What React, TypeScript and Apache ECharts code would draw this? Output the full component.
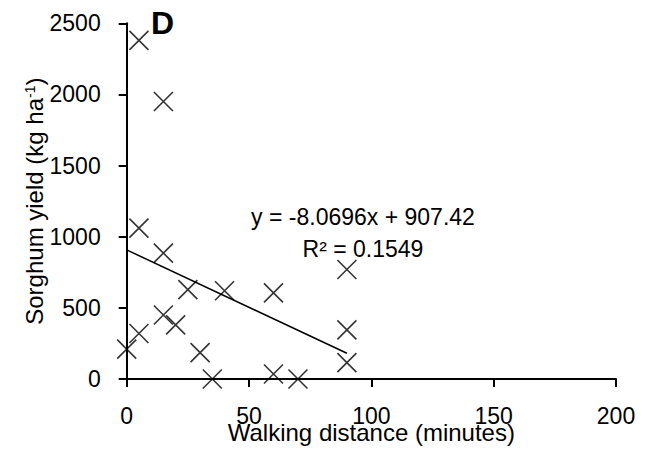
import React, { useEffect, useRef } from "react";
import * as echarts from "echarts";

// Walking distance to field (minutes) and sorghum yield (kg/ha) per household
const distanceMin = [5, 15, 5, 15, 25, 15, 20, 5, 0, 30, 35, 40, 60, 60, 70, 90, 90, 90];
const yieldKgHa = [2380, 1950, 1060, 885, 628, 450, 380, 320, 210, 185, 0, 620, 605, 35, 0, 770, 345, 115];

// Linear trend fitted to the points above
const trendSlope = -8.0696;
const trendIntercept = 907.42;
const trendR2 = 0.1549;
const trendRange = [0, 90];

// Axis extents
const xAxisRange = [0, 200];
const xAxisStep = 50;
const yAxisRange = [0, 2500];
const yAxisStep = 500;

const panelLetter = "D";
const FONT = "Liberation Sans";

export default function App() {
  const ref = useRef<HTMLDivElement>(null);

  useEffect(() => {
    if (!ref.current) return;
    const chart = echarts.init(ref.current, null, { renderer: "svg" });

    const points = distanceMin.map((d, i) => [d, yieldKgHa[i]]);
    const trendPoints = trendRange.map((x) => [x, trendSlope * x + trendIntercept]);
    const eqText = `y = ${trendSlope}x ${trendIntercept < 0 ? "-" : "+"} ${Math.abs(trendIntercept)}`;
    const r2Text = `R\u00B2 = ${trendR2}`;

    const axisLine = { show: true, lineStyle: { color: "#000", width: 2 } };
    const axisTick = { show: true, inside: false, length: 8, lineStyle: { color: "#000", width: 2 } };
    const plain = (v: number) => String(v);

    chart.setOption({
      animation: false,
      backgroundColor: "#fff",
      grid: { left: 126.7, right: 32, top: 23.3, bottom: 67.3, containLabel: false },
      xAxis: {
        type: "value",
        min: xAxisRange[0],
        max: xAxisRange[1],
        interval: xAxisStep,
        splitLine: { show: false },
        axisLine,
        axisTick,
        axisLabel: { color: "#000", fontFamily: FONT, fontSize: 23, margin: 25, formatter: plain },
        name: "Walking distance (minutes)",
        nameLocation: "middle",
        nameGap: 41,
        nameMoveOverlap: false,
        nameTextStyle: { color: "#000", fontFamily: FONT, fontSize: 24, verticalAlign: "top" },
      },
      yAxis: {
        type: "value",
        min: yAxisRange[0],
        max: yAxisRange[1],
        interval: yAxisStep,
        splitLine: { show: false },
        axisLine,
        axisTick,
        axisLabel: { color: "#000", fontFamily: FONT, fontSize: 23, margin: 26, formatter: plain },
        name: "{a|Sorghum yield (kg ha}{s|-1}{a|)}",
        nameLocation: "middle",
        nameRotate: 90,
        nameGap: 80,
        nameMoveOverlap: false,
        nameTextStyle: {
          color: "#000",
          fontFamily: FONT,
          fontSize: 24,
          rich: {
            a: { fontFamily: FONT, fontSize: 24, color: "#000" },
            s: { fontFamily: FONT, fontSize: 14, color: "#000", verticalAlign: "top" },
          },
        },
      },
      series: [
        {
          type: "line",
          data: trendPoints,
          symbol: "none",
          lineStyle: { color: "#000", width: 1.5 },
          silent: true,
          z: 2,
        },
        {
          type: "scatter",
          data: points,
          symbol: "path://M0,0L10,10M10,0L0,10",
          symbolSize: 19,
          itemStyle: { color: "none", borderColor: "#000", borderWidth: 1.6 },
          z: 3,
        },
      ],
      graphic: [
        {
          type: "text",
          x: 151,
          y: 7,
          style: {
            text: panelLetter,
            fontFamily: FONT,
            fontSize: 32,
            fontWeight: "bold",
            fill: "#000",
            align: "left",
            verticalAlign: "top",
          },
        },
        {
          type: "text",
          x: 363,
          y: 205.5,
          style: { text: eqText, fontFamily: FONT, fontSize: 23, fill: "#000", align: "center", verticalAlign: "top" },
        },
        {
          type: "text",
          x: 363,
          y: 237.2,
          style: { text: r2Text, fontFamily: FONT, fontSize: 23, fill: "#000", align: "center", verticalAlign: "top" },
        },
      ],
    });

    return () => chart.dispose();
  }, []);

  return (
    <div
      ref={ref}
      style={{ position: "fixed", left: 0, top: 0, width: 648, height: 449, background: "#fff" }}
    />
  );
}
